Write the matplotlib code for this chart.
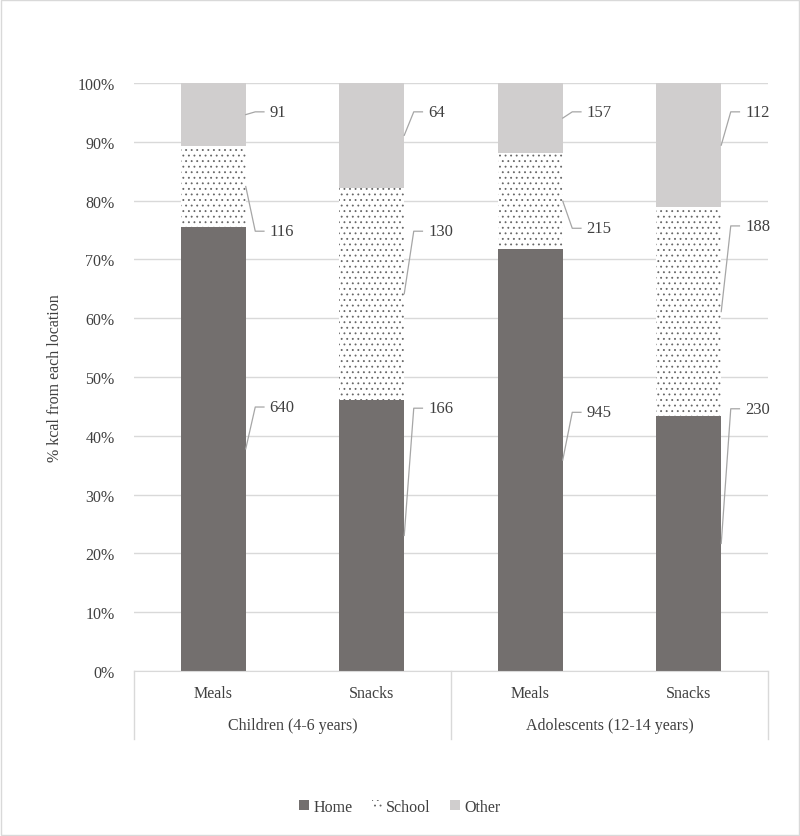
import matplotlib.pyplot as plt
import matplotlib.patches as mpatches
import numpy as np

plt.rcParams['font.family'] = ['Liberation Serif', 'DejaVu Serif']
plt.rcParams['hatch.color'] = '#666666'
plt.rcParams['hatch.linewidth'] = 0.6

# data (kcal)
groups = ['Children (4-6 years)', 'Adolescents (12-14 years)']
occasions = ['Meals', 'Snacks', 'Meals', 'Snacks']
locations = ['Home', 'School', 'Other']
home = [640, 166, 945, 230]
school = [116, 130, 215, 188]
other = [91, 64, 157, 112]

# label placement (y in %, per bar, per location)
lab_y = [[44.9, 74.8, 95.1], [44.7, 74.8, 95.1], [44.0, 75.3, 95.1], [44.6, 75.7, 95.1]]

txt = '#404040'
colors = ['#736F6E', 'white', '#D0CECE']
hatches = [None, '...', None]

vals = np.array([home, school, other], dtype=float)
pct = vals / vals.sum(axis=0) * 100

fig = plt.figure(figsize=(8, 8.37), dpi=100)
ax = fig.add_axes([0.1675, 0.1971, 0.7925, 0.7025])
x = np.arange(len(occasions))
w = 0.41
bottom = np.zeros(len(occasions))
for i, loc in enumerate(locations):
    ax.bar(x, pct[i], w, bottom=bottom, color=colors[i], hatch=hatches[i],
           linewidth=0, label=loc, zorder=2)
    for j in range(len(occasions)):
        edge = x[j] + w / 2
        mid = bottom[j] + pct[i][j] / 2
        ly = lab_y[j][i]
        ax.plot([edge, edge + 0.06, edge + 0.115], [mid, ly, ly], color='#A6A6A6',
                lw=0.9, zorder=3, clip_on=False)
        ax.text(edge + 0.15, ly, str(int(vals[i][j])), color=txt, fontsize=12,
                va='center', ha='left')
    bottom += pct[i]

ax.set_xlim(-0.5, 3.5)
ax.set_ylim(0, 100)
ax.set_yticks(range(0, 101, 10))
ax.set_yticklabels([f'{t}%' for t in range(0, 101, 10)])
ax.yaxis.grid(True, color='#D9D9D9', lw=1, zorder=0)
ax.set_axisbelow(True)
for s in ['top', 'right', 'left']:
    ax.spines[s].set_visible(False)
ax.spines['bottom'].set_color('#D9D9D9')
ax.tick_params(axis='y', length=0, labelsize=11.5, labelcolor=txt, pad=14)
ax.tick_params(axis='x', length=0, labelsize=11.5, labelcolor=txt, pad=10)
ax.set_xticks(x)
ax.set_xticklabels(occasions)
ax.set_ylabel('% kcal from each location', fontsize=11.5, color=txt, labelpad=10)

# second level of category axis
for xs in [-0.5, 1.5, 3.5]:
    ax.plot([xs, xs], [0, -0.116], color='#D9D9D9', lw=1,
            transform=ax.get_xaxis_transform(), clip_on=False)
for k, g in enumerate(groups):
    ax.text(0.5 + 2 * k, -0.092, g, ha='center', va='center', fontsize=11.5,
            color=txt, transform=ax.get_xaxis_transform())

handles = [mpatches.Patch(facecolor=colors[i], hatch=hatches[i], linewidth=0, label=locations[i])
           for i in range(3)]
fig.legend(handles=handles, loc='center', bbox_to_anchor=(0.5, 0.035), ncol=3,
           frameon=False, fontsize=11.5, handlelength=0.6, handleheight=0.6,
           handletextpad=0.3, columnspacing=1.2, labelcolor=txt)

fig.patches.append(mpatches.Rectangle((0.001, 0.001), 0.998, 0.998, transform=fig.transFigure,
                                      fill=False, edgecolor='#D9D9D9', lw=1))
fig.savefig('out.png', dpi=100)
